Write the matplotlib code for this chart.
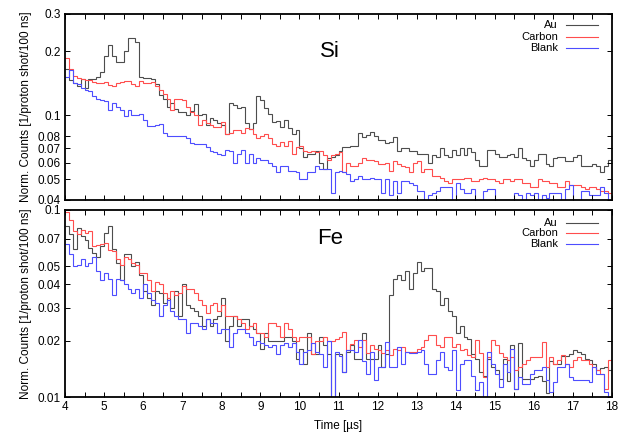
import numpy as np
import matplotlib
matplotlib.use("Agg")
import matplotlib.pyplot as plt
from matplotlib.ticker import FixedLocator, FixedFormatter, MultipleLocator, NullLocator

plt.rcParams['font.family'] = ['Liberation Sans', 'DejaVu Sans']

# 100 ns bins from 4 to 18 us
t_start, t_stop, n_bins = 4.0, 18.0, 140
edges = np.linspace(t_start, t_stop, n_bins + 1)

si_au = [0.166, 0.147, 0.142, 0.138, 0.148, 0.135, 0.148, 0.148, 0.152, 0.16,
         0.19, 0.215, 0.19, 0.178, 0.178, 0.2, 0.232, 0.232, 0.222, 0.152,
         0.15, 0.15, 0.148, 0.14, 0.125, 0.12, 0.11, 0.115, 0.107, 0.104,
         0.104, 0.1, 0.105, 0.113, 0.1, 0.102, 0.09, 0.097, 0.095, 0.092,
         0.09, 0.082, 0.114, 0.112, 0.108, 0.11, 0.092, 0.086, 0.092, 0.123,
         0.118, 0.108, 0.102, 0.093, 0.094, 0.088, 0.095, 0.087, 0.082, 0.085,
         0.07, 0.064, 0.066, 0.066, 0.068, 0.06, 0.056, 0.063, 0.064, 0.065,
         0.068, 0.071, 0.071, 0.072, 0.072, 0.083, 0.079, 0.081, 0.084, 0.08,
         0.077, 0.077, 0.074, 0.075, 0.079, 0.068, 0.07, 0.07, 0.068, 0.068,
         0.066, 0.066, 0.066, 0.06, 0.065, 0.064, 0.07, 0.065, 0.064, 0.069,
         0.065, 0.07, 0.065, 0.0705, 0.067, 0.062, 0.058, 0.058, 0.069, 0.069,
         0.066, 0.064, 0.064, 0.065, 0.066, 0.064, 0.07, 0.063, 0.062, 0.058,
         0.062, 0.066, 0.066, 0.059, 0.058, 0.063, 0.064, 0.064, 0.061, 0.061,
         0.064, 0.065, 0.058, 0.058, 0.058, 0.059, 0.058, 0.054, 0.058, 0.062]

si_carbon = [0.187, 0.166, 0.153, 0.15, 0.148, 0.147, 0.146, 0.144, 0.142, 0.142,
             0.143, 0.139, 0.137, 0.142, 0.143, 0.145, 0.145, 0.14, 0.138, 0.145,
             0.142, 0.142, 0.143, 0.137, 0.132, 0.126, 0.12, 0.106, 0.12, 0.12,
             0.118, 0.11, 0.104, 0.1, 0.09, 0.095, 0.092, 0.09, 0.088, 0.088,
             0.093, 0.082, 0.083, 0.085, 0.085, 0.083, 0.087, 0.086, 0.082, 0.078,
             0.08, 0.082, 0.078, 0.073, 0.072, 0.075, 0.072, 0.076, 0.066, 0.071,
             0.072, 0.068, 0.067, 0.068, 0.067, 0.068, 0.065, 0.062, 0.065, 0.066,
             0.067, 0.054, 0.06, 0.058, 0.058, 0.06, 0.063, 0.062, 0.062, 0.061,
             0.059, 0.059, 0.06, 0.055, 0.061, 0.059, 0.058, 0.057, 0.054, 0.06,
             0.061, 0.054, 0.056, 0.056, 0.052, 0.052, 0.051, 0.049, 0.048, 0.05,
             0.05, 0.05, 0.051, 0.051, 0.049, 0.049, 0.05, 0.051, 0.05, 0.05,
             0.049, 0.048, 0.05, 0.05, 0.049, 0.05, 0.05, 0.048, 0.048, 0.046,
             0.046, 0.05, 0.049, 0.049, 0.048, 0.048, 0.046, 0.046, 0.049, 0.047,
             0.047, 0.047, 0.046, 0.045, 0.046, 0.046, 0.045, 0.044, 0.044, 0.043]

si_blank = [0.152, 0.163, 0.142, 0.14, 0.134, 0.132, 0.13, 0.123, 0.12, 0.118,
            0.117, 0.106, 0.114, 0.11, 0.106, 0.099, 0.106, 0.1, 0.1, 0.101,
            0.095, 0.089, 0.089, 0.09, 0.091, 0.083, 0.08, 0.08, 0.08, 0.08,
            0.08, 0.078, 0.074, 0.073, 0.073, 0.073, 0.071, 0.068, 0.067, 0.066,
            0.065, 0.069, 0.068, 0.06, 0.066, 0.069, 0.06, 0.066, 0.06, 0.063,
            0.062, 0.062, 0.06, 0.058, 0.054, 0.058, 0.058, 0.055, 0.055, 0.054,
            0.05, 0.05, 0.054, 0.054, 0.058, 0.056, 0.056, 0.056, 0.043, 0.054,
            0.055, 0.054, 0.053, 0.049, 0.05, 0.052, 0.05, 0.05, 0.051, 0.05,
            0.05, 0.043, 0.05, 0.042, 0.049, 0.043, 0.049, 0.049, 0.048, 0.047,
            0.044, 0.044, 0.039, 0.042, 0.043, 0.044, 0.046, 0.046, 0.046, 0.039,
            0.048, 0.045, 0.043, 0.043, 0.045, 0.04, 0.039, 0.044, 0.045, 0.045,
            0.039, 0.038, 0.038, 0.039, 0.038, 0.043, 0.042, 0.04, 0.043, 0.042,
            0.043, 0.039, 0.042, 0.041, 0.043, 0.043, 0.043, 0.039, 0.045, 0.047,
            0.039, 0.039, 0.044, 0.044, 0.042, 0.042, 0.042, 0.046, 0.043, 0.04]

fe_au = [0.082, 0.074, 0.062, 0.08, 0.073, 0.069, 0.063, 0.059, 0.056, 0.064,
         0.075, 0.082, 0.062, 0.052, 0.042, 0.058, 0.058, 0.05, 0.053, 0.045,
         0.037, 0.034, 0.031, 0.037, 0.036, 0.032, 0.034, 0.03, 0.037, 0.027,
         0.04, 0.031, 0.03, 0.029, 0.027, 0.024, 0.026, 0.024, 0.026, 0.027,
         0.034, 0.02, 0.024, 0.027, 0.024, 0.026, 0.026, 0.024, 0.023, 0.022,
         0.018, 0.022, 0.02, 0.02, 0.02, 0.02, 0.021, 0.021, 0.02, 0.016,
         0.018, 0.015, 0.022, 0.017, 0.017, 0.021, 0.019, 0.017, 0.009, 0.017,
         0.017, 0.0136, 0.0175, 0.019, 0.016, 0.016, 0.022, 0.016, 0.016, 0.016,
         0.019, 0.0145, 0.017, 0.035, 0.043, 0.045, 0.042, 0.047, 0.038, 0.046,
         0.053, 0.047, 0.049, 0.049, 0.038, 0.037, 0.031, 0.034, 0.029, 0.027,
         0.022, 0.024, 0.021, 0.0205, 0.017, 0.016, 0.0136, 0.013, 0.016, 0.0145,
         0.014, 0.0125, 0.016, 0.0122, 0.019, 0.011, 0.0195, 0.0125, 0.0125, 0.0125,
         0.0128, 0.013, 0.0122, 0.0105, 0.0155, 0.015, 0.015, 0.0165, 0.0165, 0.017,
         0.0178, 0.0175, 0.017, 0.016, 0.0157, 0.015, 0.014, 0.0143, 0.0145, 0.014]

fe_carbon = [0.097, 0.088, 0.077, 0.074, 0.078, 0.075, 0.077, 0.064, 0.065, 0.066,
             0.067, 0.061, 0.06, 0.055, 0.051, 0.056, 0.055, 0.052, 0.051, 0.046,
             0.046, 0.042, 0.037, 0.041, 0.04, 0.036, 0.034, 0.037, 0.035, 0.036,
             0.039, 0.038, 0.038, 0.036, 0.033, 0.031, 0.028, 0.031, 0.032, 0.029,
             0.031, 0.027, 0.027, 0.027, 0.026, 0.025, 0.023, 0.024, 0.025, 0.022,
             0.022, 0.021, 0.025, 0.025, 0.024, 0.021, 0.025, 0.023, 0.021, 0.02,
             0.021, 0.021, 0.021, 0.017, 0.02, 0.02, 0.021, 0.02, 0.02, 0.0205,
             0.021, 0.0223, 0.0178, 0.0193, 0.0201, 0.0185, 0.0201, 0.0171, 0.0189, 0.0181,
             0.0178, 0.0171, 0.0178, 0.0167, 0.018, 0.0178, 0.0185, 0.0174, 0.0174, 0.0174,
             0.0181, 0.0185, 0.0201, 0.0214, 0.0214, 0.0189, 0.0185, 0.021, 0.021, 0.0185,
             0.0193, 0.0178, 0.0181, 0.0167, 0.0164, 0.0201, 0.0171, 0.0128, 0.0164, 0.0201,
             0.0189, 0.0171, 0.0164, 0.0157, 0.0164, 0.0139, 0.0145, 0.0151, 0.0157, 0.0164,
             0.0164, 0.0164, 0.0197, 0.0145, 0.0164, 0.0151, 0.0157, 0.0167, 0.0151, 0.0145,
             0.0157, 0.0164, 0.0157, 0.0157, 0.0151, 0.0145, 0.0139, 0.0133, 0.0111, 0.0157]

fe_blank = [0.066, 0.058, 0.05, 0.051, 0.055, 0.05, 0.052, 0.056, 0.047, 0.042,
            0.046, 0.043, 0.035, 0.043, 0.042, 0.04, 0.038, 0.036, 0.038, 0.034,
            0.04, 0.036, 0.033, 0.032, 0.027, 0.031, 0.033, 0.029, 0.027, 0.026,
            0.026, 0.022, 0.025, 0.025, 0.024, 0.023, 0.026, 0.025, 0.025, 0.022,
            0.023, 0.023, 0.0185, 0.022, 0.023, 0.023, 0.022, 0.021, 0.019, 0.02,
            0.0195, 0.019, 0.0185, 0.019, 0.017, 0.019, 0.0195, 0.0185, 0.0195, 0.0175,
            0.015, 0.0175, 0.0178, 0.0195, 0.0175, 0.017, 0.0145, 0.02, 0.0095, 0.0175,
            0.0165, 0.0136, 0.0178, 0.0178, 0.0174, 0.0201, 0.0155, 0.0133, 0.0174, 0.0123,
            0.0145, 0.0145, 0.0197, 0.0145, 0.0145, 0.0185, 0.0151, 0.0174, 0.0171, 0.0171,
            0.0174, 0.0178, 0.0151, 0.0133, 0.0133, 0.0157, 0.0174, 0.0145, 0.0139, 0.0178,
            0.0109, 0.0151, 0.0157, 0.0157, 0.013, 0.0109, 0.0121, 0.0095, 0.0174, 0.0151,
            0.0133, 0.0113, 0.0151, 0.0136, 0.0181, 0.011, 0.0128, 0.0118, 0.0118, 0.0133,
            0.0139, 0.0139, 0.0145, 0.0123, 0.0107, 0.012, 0.0145, 0.0145, 0.0151, 0.0128,
            0.0123, 0.0123, 0.0123, 0.0123, 0.012, 0.0145, 0.0133, 0.0133, 0.0107, 0.0098]

labels = ['Au', 'Carbon', 'Blank']
colors = ['#4d4d4d', '#ff4d4d', '#4d4dff']

si_ticks = [0.04, 0.05, 0.06, 0.07, 0.08, 0.1, 0.2, 0.3]
si_ticklabels = ['0.04', '0.05', '0.06', '0.07', '0.08', '0.1', '0.2', '0.3']
fe_ticks = [0.01, 0.02, 0.03, 0.04, 0.05, 0.07, 0.1]
fe_ticklabels = ['0.01', '0.02', '0.03', '0.04', '0.05', '0.07', '0.1']

W, H = 621, 432
fig = plt.figure(figsize=(W / 100, H / 100), dpi=100)
ax_si = fig.add_axes([65 / W, 1 - 200 / H, 547 / W, 186 / H])
ax_fe = fig.add_axes([65 / W, 1 - 397 / H, 547 / W, 187 / H])


def draw_panel(ax, series, ylim, ticks, ticklabels, title, title_y, leg_y):
    for vals, col in zip(series, colors):
        ax.stairs(vals, edges, baseline=None, color=col, lw=0.8)
    ax.set_yscale('log')
    ax.set_xlim(t_start, t_stop)
    ax.set_ylim(*ylim)
    ax.yaxis.set_major_locator(FixedLocator(ticks))
    ax.yaxis.set_major_formatter(FixedFormatter(ticklabels))
    ax.yaxis.set_minor_locator(NullLocator())
    ax.xaxis.set_major_locator(MultipleLocator(1))
    ax.xaxis.set_minor_locator(MultipleLocator(0.5))
    ax.tick_params(which='both', direction='in', top=True, right=True,
                   length=3.6, width=0.7, labelsize=8.5, pad=3)
    for sp in ax.spines.values():
        sp.set_linewidth(1.3)
    ax.set_ylabel('Norm. Counts [1/proton shot/100 ns]', fontsize=8.5, labelpad=4)
    ax.text(0.485, title_y, title, transform=ax.transAxes, fontsize=16,
            ha='center', va='center')
    # gnuplot-style key: text right aligned, sample line to its right
    for lab, col, y in zip(labels, colors, leg_y):
        ax.text(0.901, y, lab, transform=ax.transAxes, fontsize=8,
                ha='right', va='center')
        ax.plot([0.916, 0.974], [y, y], transform=ax.transAxes, color=col, lw=0.8)


draw_panel(ax_si, [si_au, si_carbon, si_blank], (0.04, 0.3), si_ticks, si_ticklabels,
           'Si', 0.80, [0.941, 0.876, 0.817])
draw_panel(ax_fe, [fe_au, fe_carbon, fe_blank], (0.01, 0.1), fe_ticks, fe_ticklabels,
           'Fe', 0.845, [0.932, 0.877, 0.818])

ax_si.tick_params(labelbottom=False)
ax_fe.set_xlabel('Time [µs]', fontsize=8.5, labelpad=5)

fig.savefig('out.png', dpi=100)
